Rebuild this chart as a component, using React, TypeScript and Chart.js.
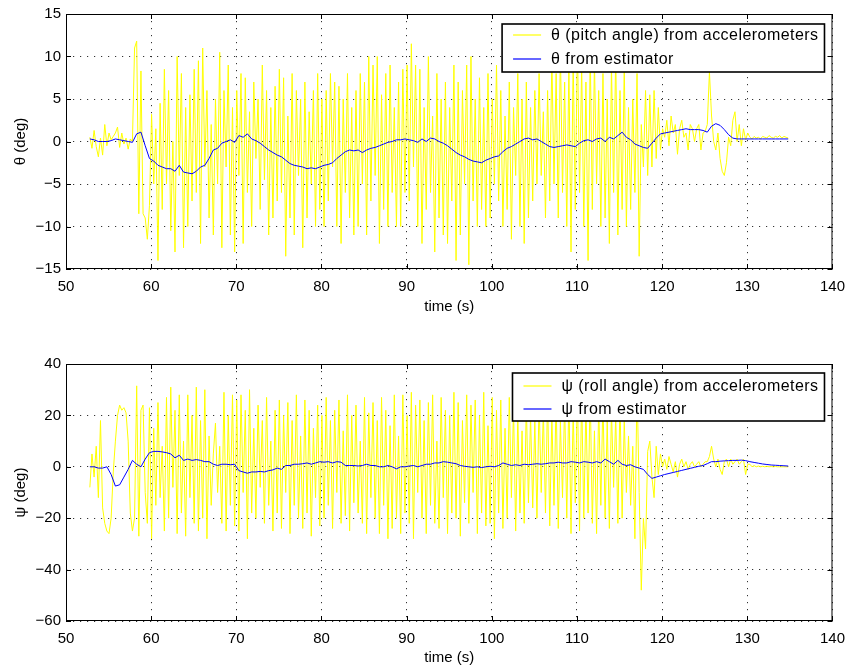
import { useEffect, useRef } from 'react';
import { Chart, registerables } from 'chart.js';
Chart.register(...registerables);

// ---- time bases (s) ----
const T0 = 52.8;
const RAW_STEP = 0.25;
const EST_STEP = 0.5;

// ---- tick values ----
const xTicks = [50, 60, 70, 80, 90, 100, 110, 120, 130, 140];
const pitchTicks = [-15, -10, -5, 0, 5, 10, 15];
const rollTicks = [-60, -40, -20, 0, 20, 40];

// ---- labels ----
const pitchLabels = ['\u03b8 (pitch angle) from accelerometers', '\u03b8 from estimator'];
const rollLabels = ['\u03c8 (roll angle) from accelerometers', '\u03c8 from estimator'];

// ---- pitch angle from accelerometers (deg), every 0.25 s from 52.8 s ----
const pitchRaw = [
  0.5, -0.8, 1.3, -0.6, -1.8, 0.4, -1.6, 2.0, -0.5, 1.0, 0.2, 0.6, 1.0, 1.7, -0.7, 1.0, -0.3, 0.4, -0.9, 0.3, 0.0,
  11.0, 11.8, -8.5, 8.3, -8.5, -9.0, -11.5, -7.5, 3.2,
  -5, 1.5, -14, 4.5, -8, 8.5, -5, 6, -10.5, 0, -13, 10, -4, 8, -12.5, 4, -10, 5.5, -7, 8.5,
  -6, 9.5, -12, 11, -3, 6, -9, 2, -11, 5, -5, 10.5, -12.5, 6, -3, 9, -11, 4, -13, 6,
  -4, 8, -12, 7.5, -6, 3.5, -10, 7, -2, 5, -8, 9, -4.5, 6, -11, 4, -9, 6.5, -7, 8.5,
  -6, 7.5, -13.5, 3, -9, 8, -11, 6, -4, 5, -12.5, 7, -9, 3.5, -5, 6, -10, 8, -8, 5,
  -10, 6, -7, 8, -3, 7, -10, 6.5, -12, 5, -6, 8, -9, 4, -11, 6, -10, 8, -5, 7,
  -11, 10, -7, 9, -4, 10, -12, 5.5, -8, 8, -10, 9, -6, 4, -10, 7, -10, 8.5, -6, 9,
  -7, 11.5, -3, 9, -10, 8.5, -12, 4, -8, 10, -6, 3, -13, 8, -9, 5, -11, 7, -12, 4,
  -7, 9, -14, 7, -11, 6, -5, 9, -14.5, 10, -7, 5, -10, 7.5, -8, 4, -10, 8, -9, 5,
  -5, 9, -7, 6, -10, 3, -8, 7, -11.5, 4, -4, 8, -10, 5, -12, 7, -9, 4, -7, 6,
  -5, 8, -4, 3.5, -9, 6, -7, 10, -5, 8, -9, 11, -6, 7, -10, 9, -13, 10, -8, 12,
  -6, 9, -10, 7, -14, 11, -8, 9.5, -5, 6, -10, 8, -9, 5, -12, 9, -6, 10.5, -11, 6,
  -8, 9, -10, 4, -8, 5, -6, 8, -13.5, 2, -3,
  6, -4, 5.5, -3, 6, -2, 4, -1,
  1.5, 0.5, 2.5, -0.5, 3, 1, 2, -1.5, 1.5, 2.5, 0.5, 1, -1, 2, 1.5, 0, 1.5, 2, -1, 1, 1.2,
  2, 8.2, 3, 0, -1, 1, -2, -3.5, -4, -2.5, 0.5, -0.5, 2.5, 3.5, 0, 2, -0.5, 1.5, 0.2, 1.0,
  0.5, 0.3, 0.6, 0.4, 0.5, 0.3, 0.6, 0.5, 0.4, 0.7, 0.5, 0.4, 0.6, 0.5, 0.7, 0.4, 0.6, 0.5, 0.4,
];

// ---- pitch angle from estimator (deg), every 0.5 s from 52.8 s ----
const pitchEst = [
  0.3, 0.2, 0.0, 0.0, 0.0, 0.1, 0.3, 0.2, 0.1, 0.0,
  -0.1, 0.9, 1.1, -0.5, -2.0, -2.3, -2.8, -3.0, -3.2, -3.2,
  -3.5, -2.8, -3.6, -3.7, -3.8, -3.5, -3.0, -2.8, -2.0, -1.0,
  -0.8, -0.2, 0.0, 0.2, -0.1, 0.7, 0.5, 0.9, 0.3, 0.1,
  -0.2, -0.6, -1.0, -1.3, -1.6, -1.8, -2.2, -2.6, -2.8, -2.9,
  -3.0, -3.2, -3.1, -3.2, -3.0, -2.8, -2.7, -2.5, -2.0, -1.6,
  -1.2, -1.0, -1.1, -1.0, -1.3, -1.0, -0.8, -0.7, -0.5, -0.3,
  -0.1, 0.0, 0.2, 0.2, 0.3, 0.2, 0.1, -0.1, 0.3, 0.0,
  0.4, 0.3, 0.0, -0.2, -0.5, -0.9, -1.3, -1.6, -1.8, -2.1,
  -2.3, -2.4, -2.5, -2.2, -2.0, -1.8, -1.7, -1.2, -0.8, -0.6,
  -0.3, 0.0, 0.3, 0.4, 0.2, 0.3, 0.0, -0.3, -0.6, -0.7,
  -0.6, -0.5, -0.4, -0.5, -0.6, -0.2, 0.1, 0.2, 0.0, 0.3,
  0.4, 0.0, 0.5, 0.3, 0.7, 1.1, 0.5, 0.2, -0.3, -0.5,
  -0.7, -0.8, -0.2, 0.4, 0.9, 1.0, 1.1, 1.2, 1.3, 1.4,
  1.5, 1.4, 1.4, 1.4, 1.3, 1.1, 1.8, 2.1, 1.9, 1.4,
  0.8, 0.4, 0.3, 0.3, 0.3, 0.3, 0.3, 0.3, 0.3, 0.3,
  0.3, 0.3, 0.3, 0.3, 0.3,
];

// ---- roll angle from accelerometers (deg), every 0.25 s from 52.8 s ----
const rollRaw = [
  -8, 5, -4, 8, -12, 18, -16, -22, -25, -26, -20, -2, 10, 20, 24, 22, 23, 21, 10, -18, -25,
  -20, 31.5, -27, 22, 24, -10, -22, 23, -28,
  15, -15, 25, -12, 8, -25, 27, -20, 31, -8, 22, -26, 28, -18, 10, -27, 28, -12, 20, -22,
  31, -25, 18, -20, 30, -28, 12, -15, 5, 17, -10, 8, -22, 29, -25, 20, -15, 28, -23, 26,
  -25, 28, -10, 22, -28, 30, -18, 15, -20, 24, -8, 18, -22, 27, -15, 10, -25, 22, -18, 26,
  -24, 20, -10, 25, -26, 18, -15, 28, -20, 12, -24, 26, -18, 22, -27, 15, -12, 24, -23, 20,
  -20, 27, -15, 18, -24, 22, -10, 26, -22, 14, -19, 28, -25, 20, -14, 24, -18, 10, -22, 27,
  -26, 21, -12, 25, -20, 18, -26, 27, -15, 22, -28, 16, -24, 28, -20, 12, -26, 28, -18, 20,
  -22, 29, -28, 24, -10, 26, -20, 18, -26, 25, -15, 28, -22, 10, -24, 27, -12, 22, -26, 20,
  -18, 29, -20, 25, -27, 18, -14, 28, -22, 24, -10, 26, -26, 20, -18, 29, -23, 16, -22, 27,
  -28, 22, -18, 26, -24, 15, -20, 27, -12, 23, -25, 20, -18, 14, -22, 25, -14, 20, -16, 18,
  -20, 26, -10, 22, -18, 28, -23, 20, -15, 27, -24, 18, -12, 25, -20, 28, -26, 22, -14, 30,
  -25, 28, -20, 24, -18, 30, -22, 14, -26, 25, -15, 27, -20, 18, -24, 22, -8, 20, -22, 26,
  -20, 18, -10, 12, -15, 8, -28, 32, -10, -48, -20,
  -32, 6, 10, -4, -12, 8, -3, 5,
  0, 3, -1, 4, 1, -2, 2, -4, 1, 3, 0, 2, -1, 1, 2, 0, 1, 2, 0, 1, 2,
  2, 4, 8, 3, 0, 3, -1, -3, 2, 3, 0, 3, 1, 2, 3, 1, 2, 3, -3, 1,
  1, 0, 0.5, 0, 0.3, 0, 0.2, 0, 0.2, 0, 0.1, 0, 0.1, 0, 0, 0, 0, 0, 0,
];

// ---- roll angle from estimator (deg), every 0.5 s from 52.8 s ----
const rollEst = [
  0, 0, -0.5, -0.5, 0, -3, -7.5, -7, -4, -1,
  2.5, 1, 0, 3, 5.5, 6, 6, 5.8, 5.5, 5,
  3.5, 4.5, 2.5, 3, 2.5, 2.8, 2.5, 2, 2, 1,
  0.5, 1, 1, 0.8, 1, -1.5, -2, -2.5, -2, -2,
  -1.8, -2, -1.5, -1.2, -0.5, -1, 0.5, 0.5, 1, 1,
  1.2, 1.5, 1, 1.5, 2, 1.8, 2, 1.5, 2, 1.8,
  0.5, 0.5, 0.5, 0.3, 0.5, 1, 0.5, 0.5, 0, 0,
  0.5, 0, -0.8, 0, 0, 0.3, 0.5, 0, 0.5, 1,
  1, 1.5, 1.5, 2, 1.8, 1.5, 1.2, 0.5, 0.2, 0,
  -0.2, 0, -0.3, 0, 0.2, 0, 0.5, 1.5, 1, 0.5,
  0.8, 0.5, 1, 0.8, 1, 1.2, 1, 1.2, 1.5, 1.5,
  1.8, 1.5, 1.5, 2, 1.8, 1.5, 2, 1.8, 1.5, 2,
  1.5, 3, 2, 1, 2.5, 1, 0.5, 0.8, 0, -0.5,
  -1, -3, -4.5, -4, -3.5, -3, -2.6, -2.2, -1.8, -1.4,
  -1, -0.6, -0.2, 0.2, 0.5, 1.2, 2, 2, 2.2, 2.3,
  2.4, 2.5, 2.5, 2.6, 2.4, 2.0, 1.7, 1.4, 1.1, 0.9,
  0.7, 0.6, 0.5, 0.4, 0.3,
];

const FONT = '"Liberation Sans", Arial, Helvetica, sans-serif';
const W = 854;
const H = 335;
const LEGEND_SPACING = 0.45;

const toPoints = (vals: number[], step: number) =>
  vals.map((v, i) => ({ x: T0 + i * step, y: v }));

const fmt = (v: number | string) => String(v).replace('-', '\u2212');

const framePlugin = {
  id: 'frame',
  afterDatasetsDraw(chart: any, _args: any, opts: any) {
    const { ctx, chartArea: a, scales } = chart;
    ctx.save();
    // axes box
    ctx.strokeStyle = '#000';
    ctx.lineWidth = 1;
    ctx.setLineDash([]);
    ctx.strokeRect(a.left + 0.5, a.top + 0.5, a.right - a.left - 1, a.bottom - a.top - 1);
    // inward tick marks
    const tl = 5;
    ctx.beginPath();
    scales.x.ticks.forEach((t: any) => {
      const px = Math.round(scales.x.getPixelForValue(t.value)) + 0.5;
      ctx.moveTo(px, a.bottom);
      ctx.lineTo(px, a.bottom - tl);
      ctx.moveTo(px, a.top);
      ctx.lineTo(px, a.top + tl);
    });
    scales.y.ticks.forEach((t: any) => {
      const py = Math.round(scales.y.getPixelForValue(t.value)) + 0.5;
      ctx.moveTo(a.left, py);
      ctx.lineTo(a.left + tl, py);
      ctx.moveTo(a.right, py);
      ctx.lineTo(a.right - tl, py);
    });
    ctx.stroke();

    // legend box
    ctx.font = `16px ${FONT}`;
    const ds = chart.data.datasets;
    const widthOf = (s: string) => ctx.measureText(s).width + LEGEND_SPACING * s.length;
    const textW = Math.max(...ds.map((d: any) => widthOf(d.label)));
    const right = a.right - 8;
    const left = right - (11 + 38 + textW + 6);
    const top = a.top + opts.topOffset;
    const h = 48;
    ctx.fillStyle = '#fff';
    ctx.fillRect(left, top, right - left, h);
    ctx.lineWidth = 1.6;
    ctx.strokeStyle = '#000';
    ctx.strokeRect(left, top, right - left, h);
    if ('letterSpacing' in ctx) (ctx as any).letterSpacing = `${LEGEND_SPACING}px`;
    ds.forEach((d: any, i: number) => {
      const y = top + opts.rows[i];
      ctx.strokeStyle = d.borderColor;
      ctx.lineWidth = 1.2;
      ctx.beginPath();
      ctx.moveTo(left + 11, y);
      ctx.lineTo(left + 39, y);
      ctx.stroke();
      ctx.fillStyle = '#000';
      ctx.textBaseline = 'middle';
      ctx.textAlign = 'left';
      ctx.fillText(d.label, left + 49, y + 1);
    });
    ctx.restore();
  },
};

type PanelSpec = {
  raw: number[];
  est: number[];
  labels: string[];
  yTicks: number[];
  yTitle: string;
  padTop: number;
  xAxisHeight: number;
  xTitlePadBottom: number;
  legendTop: number;
  legendRows: number[];
};

function makeConfig(p: PanelSpec): any {
  const yStep = p.yTicks[1] - p.yTicks[0];
  const xStep = xTicks[1] - xTicks[0];
  return {
    type: 'line',
    data: {
      datasets: [
        {
          label: p.labels[0],
          data: toPoints(p.raw, RAW_STEP),
          borderColor: '#ffff00',
          borderWidth: 1,
          pointRadius: 0,
          tension: 0,
          order: 1,
        },
        {
          label: p.labels[1],
          data: toPoints(p.est, EST_STEP),
          borderColor: '#0000ff',
          borderWidth: 1,
          pointRadius: 0,
          tension: 0,
          order: 0,
        },
      ],
    },
    options: {
      responsive: false,
      animation: false,
      devicePixelRatio: 1,
      layout: { padding: { top: p.padTop, right: W - 838, left: 0, bottom: 0 } },
      plugins: {
        legend: { display: false },
        tooltip: { enabled: false },
        frame: { topOffset: p.legendTop, rows: p.legendRows },
      },
      scales: {
        x: {
          type: 'linear',
          min: xTicks[0],
          max: xTicks[xTicks.length - 1],
          afterFit: (s: any) => {
            s.height = p.xAxisHeight;
          },
          ticks: {
            stepSize: xStep,
            padding: 9,
            color: '#000',
            font: { family: FONT, size: 15 },
            maxRotation: 0,
            callback: (v: any) => fmt(v),
          },
          grid: { color: 'rgba(0,0,0,0.8)', lineWidth: 1, drawTicks: false },
          border: { display: false, dash: [1.2, 5.8] },
          title: {
            display: true,
            text: 'time (s)',
            color: '#000',
            font: { family: FONT, size: 15 },
            padding: { top: 0, bottom: p.xTitlePadBottom },
          },
        },
        y: {
          type: 'linear',
          min: p.yTicks[0],
          max: p.yTicks[p.yTicks.length - 1],
          afterFit: (s: any) => {
            s.width = 66;
          },
          ticks: {
            stepSize: yStep,
            padding: 5,
            color: '#000',
            font: { family: FONT, size: 15 },
            callback: (v: any) => fmt(v),
          },
          grid: { color: 'rgba(0,0,0,0.8)', lineWidth: 1, drawTicks: false },
          border: { display: false, dash: [1.2, 5.8] },
          title: {
            display: true,
            text: p.yTitle,
            color: '#000',
            font: { family: FONT, size: 15 },
            padding: { top: 12, bottom: 0 },
          },
        },
      },
    },
    plugins: [framePlugin],
  };
}

function Panel({ spec }: { spec: PanelSpec }) {
  const ref = useRef<HTMLCanvasElement>(null);
  useEffect(() => {
    const chart = new Chart(ref.current as HTMLCanvasElement, makeConfig(spec));
    return () => chart.destroy();
  }, []);
  return (
    <canvas
      ref={ref}
      width={W}
      height={H}
      style={{ display: 'block', width: W, height: H }}
    />
  );
}

const topSpec: PanelSpec = {
  raw: pitchRaw,
  est: pitchEst,
  labels: pitchLabels,
  yTicks: pitchTicks,
  yTitle: '\u03b8 (deg)',
  padTop: 12,
  xAxisHeight: H - 269,
  xTitlePadBottom: 19,
  legendTop: 10,
  legendRows: [11, 35],
};

const bottomSpec: PanelSpec = {
  raw: rollRaw,
  est: rollEst,
  labels: rollLabels,
  yTicks: rollTicks,
  yTitle: '\u03c8 (deg)',
  padTop: 29,
  xAxisHeight: H - 286,
  xTitlePadBottom: 3,
  legendTop: 9,
  legendRows: [13, 36],
};

export default function App() {
  return (
    <div style={{ position: 'absolute', left: 0, top: 0, width: W, height: 2 * H, background: '#fff' }}>
      <Panel spec={topSpec} />
      <Panel spec={bottomSpec} />
    </div>
  );
}
